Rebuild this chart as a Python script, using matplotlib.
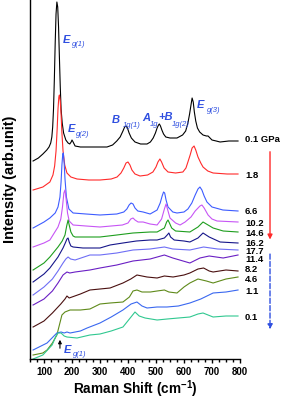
import matplotlib
matplotlib.use("Agg")
import matplotlib.pyplot as plt
from matplotlib.ticker import MultipleLocator

plt.rcParams["font.family"] = ["Liberation Sans", "DejaVu Sans"]
plt.rcParams["mathtext.fontset"] = "custom"
plt.rcParams["mathtext.rm"] = "Liberation Sans"
plt.rcParams["mathtext.bf"] = "Liberation Sans:bold"

# Raman spectra (shift in cm-1, stacked intensity in arb. units)
p01_x = [61, 80, 96, 110, 118, 124, 128, 131, 134, 137, 140, 143, 146, 149, 152, 155, 158, 161,
         165, 170, 178, 186, 192, 197, 200, 204, 211, 230, 254, 290, 325, 345, 360, 372, 382, 388,
         393, 398, 404, 412, 425, 445, 468, 480, 490, 498, 504, 509, 512, 516, 521, 527, 535, 550,
         575, 595, 606, 614, 620, 625, 629, 633, 637, 642, 648, 656, 668, 680, 686, 693, 700, 715,
         729, 760, 793]
p01_y = [198, 201, 205, 209, 212, 216, 222, 232, 250, 280, 316, 345, 357, 352, 332, 302, 273, 250,
         236, 226, 219, 216, 215, 217, 219, 217, 213, 212, 212, 212, 212, 214, 218, 222, 228, 232,
         233, 231, 226, 221, 217, 215, 215, 217, 221, 226, 231, 234, 235, 233, 229, 225, 222, 221,
         221, 224, 228, 236, 245, 254, 261, 257, 247, 238, 231, 227, 224, 223, 223, 221, 219, 218,
         217, 218, 218]

p18_x = [61, 96, 121, 132, 138, 143, 147, 150, 153, 155, 158, 161, 164, 168, 174, 182, 196, 218,
         260, 300, 340, 361, 375, 385, 393, 400, 407, 414, 425, 443, 470, 489, 500, 507, 514, 520,
         529, 543, 570, 596, 607, 614, 622, 629, 636, 642, 650, 660, 668, 685, 704, 754, 793]
p18_y = [169, 172, 177, 184, 193, 208, 230, 250, 262, 264, 258, 245, 226, 208, 194, 186, 182, 180,
         179, 179, 180, 182, 186, 191, 196, 197, 194, 189, 185, 183, 184, 187, 192, 197, 200, 197,
         191, 187, 186, 187, 191, 197, 204, 211, 213, 209, 202, 196, 192, 188, 186, 185, 185]

p66_x = [61, 100, 121, 140, 150, 157, 161, 164, 167, 169, 172, 175, 180, 189, 204, 250, 300, 360,
         385, 396, 404, 411, 418, 425, 435, 454, 479, 504, 515, 522, 527, 531, 536, 543, 560, 575,
         600, 614, 628, 640, 650, 657, 664, 672, 682, 700, 739, 793]
p66_y = [131, 137, 141, 146, 152, 162, 177, 194, 205, 206, 196, 180, 162, 150, 146, 145, 144, 145,
         147, 150, 154, 156, 155, 151, 148, 147, 145, 149, 156, 163, 167, 166, 159, 152, 147, 146,
         147, 150, 156, 164, 170, 172, 169, 163, 157, 152, 149, 148]

p102_x = [61, 100, 121, 150, 160, 166, 171, 175, 179, 184, 190, 204, 250, 300, 380, 400, 410, 418,
          425, 436, 454, 479, 504, 520, 530, 536, 541, 550, 570, 586, 604, 625, 640, 657, 664, 672,
          686, 700, 718, 793]
p102_y = [112, 116, 119, 132, 140, 152, 166, 169, 160, 146, 138, 134, 133, 132, 134, 136, 140, 141,
          139, 137, 137, 135, 134, 140, 150, 155, 150, 141, 136, 134, 137, 142, 148, 153, 154, 151,
          144, 140, 138, 137]

p146_x = [61, 100, 121, 150, 165, 175, 181, 186, 190, 196, 204, 211, 250, 300, 360, 418, 479, 504,
          530, 538, 543, 548, 556, 570, 621, 650, 668, 680, 704, 740, 793]
p146_y = [89, 96, 102, 112, 118, 124, 133, 139, 134, 127, 123, 122, 122, 122, 124, 126, 127, 127,
          131, 137, 139, 136, 131, 128, 127, 132, 137, 135, 131, 128, 127]

p162_x = [61, 100, 121, 150, 168, 176, 182, 186, 190, 196, 204, 239, 300, 336, 382, 430, 479, 504,
          530, 540, 546, 552, 565, 600, 621, 650, 668, 690, 729, 793]
p162_y = [77, 85, 91, 102, 111, 116, 120, 121, 117, 113, 112, 111, 111, 114, 116, 118, 119, 119,
          121, 124, 126, 122, 119, 118, 117, 121, 126, 122, 117, 116]

p177_x = [61, 100, 130, 150, 168, 178, 186, 195, 211, 264, 300, 360, 418, 479, 530, 560, 621, 670,
          720, 793]
p177_y = [64, 72, 80, 88, 96, 100, 102, 100, 99, 104, 104, 106, 109, 110, 112, 110, 109, 112,
          110, 109]

p114_x = [61, 100, 130, 150, 168, 182, 192, 211, 264, 300, 360, 418, 479, 530, 560, 621, 657, 690,
          740, 793]
p114_y = [54, 60, 68, 76, 84, 87, 86, 87, 89, 91, 94, 98, 100, 104, 101, 96, 101, 103, 101, 104]

p82_x = [61, 100, 130, 160, 175, 182, 190, 200, 230, 264, 300, 336, 382, 410, 432, 450, 468, 504,
         530, 561, 600, 621, 650, 670, 690, 704, 750, 793]
p82_y = [32, 38, 46, 55, 60, 63, 61, 62, 65, 69, 70, 71, 76, 80, 84, 83, 82, 81, 83, 82, 84, 86,
         90, 91, 88, 87, 89, 88]

p46_x = [61, 96, 111, 130, 146, 155, 164, 175, 193, 230, 264, 300, 336, 382, 405, 418, 432, 450,
         480, 504, 530, 546, 575, 600, 621, 650, 680, 704, 750, 793]
p46_y = [4, 6, 9, 16, 24, 34, 44, 47, 49, 49, 50, 55, 56, 57, 62, 68, 69, 67, 67, 68, 69, 67, 66,
         72, 76, 80, 78, 76, 80, 82]

p11_x = [61, 111, 146, 161, 172, 182, 193, 230, 254, 300, 340, 382, 411, 432, 450, 468, 504, 539,
         580, 621, 660, 704, 750, 793]
p11_y = [9, 16, 26, 27, 26, 27, 26, 28, 31, 36, 42, 49, 55, 57, 53, 51, 52, 52, 53, 56, 60, 66,
         67, 69]

p01b_x = [61, 96, 129, 143, 150, 161, 172, 182, 218, 264, 300, 340, 382, 405, 425, 440, 461, 504,
          540, 580, 621, 650, 668, 704, 750, 793]
p01b_y = [0, 4, 14, 23, 26, 26, 23, 22, 21, 24, 25, 28, 32, 40, 47, 43, 41, 39, 40, 41, 42, 45,
          46, 42, 43, 43]

pressures = ["0.1 GPa", "1.8", "6.6", "10.2", "14.6", "16.2", "17.7", "11.4", "8.2", "4.6", "1.1",
             "0.1"]
label_y = [219, 183, 147, 135, 126, 116, 108, 99, 90, 79, 67, 42]
colors = ["#000000", "#ff2a2a", "#3d5cff", "#c755f5", "#1e9e1e", "#16168a", "#6e6ef5", "#6a1fc4",
          "#4a1010", "#5f8a1a", "#3a68f0", "#30c890"]
xs_all = [p01_x, p18_x, p66_x, p102_x, p146_x, p162_x, p177_x, p114_x, p82_x, p46_x, p11_x, p01b_x]
ys_all = [p01_y, p18_y, p66_y, p102_y, p146_y, p162_y, p177_y, p114_y, p82_y, p46_y, p11_y, p01b_y]

fig = plt.figure(figsize=(2.83, 4.0), dpi=100)
ax = fig.add_axes([0.106, 0.1025, 0.742, 0.8975])

for xs, ys, col, lab, ylab in zip(xs_all, ys_all, colors, pressures, label_y):
    ax.plot(xs, ys, color=col, lw=0.8)
    ax.text(818, ylab, lab, fontsize=6.8, fontweight="bold", va="center", ha="left",
            clip_on=False)

ax.set_xlim(50, 800)
ax.set_ylim(0, 359)
ax.spines["top"].set_visible(False)
ax.spines["right"].set_visible(False)
ax.set_yticks([])
ax.set_xticks([100, 200, 300, 400, 500, 600, 700, 800])
ax.set_xticklabels(["100", "200", "300", "400", "500", "600", "700", "800"], fontweight="bold")
ax.xaxis.set_minor_locator(MultipleLocator(25))
ax.tick_params(axis="x", which="major", length=3, width=1, labelsize=7, pad=3)
ax.tick_params(axis="x", which="minor", length=2, width=1)
ax.set_xlabel("Raman Shift (cm$^{\\mathbf{-1}}$)", fontsize=9.8, fontweight="bold", labelpad=1)
ax.set_ylabel("Intensity (arb.unit)", fontsize=10.5, fontweight="bold", labelpad=9)
for s in ["left", "bottom"]:
    ax.spines[s].set_linewidth(1)

blue = "#2f4fe0"


def mode_text(x, y, s, size):
    ax.text(x, y, s, color=blue, fontsize=size, fontweight="bold" if size > 7 else "normal",
            style="italic", ha="left", va="baseline")


# phonon mode labels (main letter, then subscript)
mode_text(168, 316, "E", 8)
mode_text(200, 313, "g(1)", 5.5)
mode_text(186, 227, "E", 8)
mode_text(214, 223, "g(2)", 5.5)
mode_text(343, 236, "B", 8)
mode_text(382, 232, "1g(1)", 5.5)
mode_text(450, 238, "A", 8)
mode_text(479, 233, "1g", 5.5)
mode_text(507, 239, "+B", 8)
mode_text(557, 233, "1g(2)", 5.5)
mode_text(646, 251, "E", 8)
mode_text(682, 247, "g(3)", 5.5)
mode_text(171, 6, "E", 8)
mode_text(204, 3, "g(1)", 5.5)
ax.annotate("", xy=(157, 22), xytext=(157, 8),
            arrowprops=dict(arrowstyle="-|>", color="black", lw=0.8, mutation_scale=5))

# pressure direction arrows
ax.annotate("", xy=(1.143, 0.325), xytext=(1.143, 0.585), xycoords="axes fraction",
            arrowprops=dict(arrowstyle="-|>", color="#ff2a2a", lw=1, mutation_scale=7))
ax.annotate("", xy=(1.143, 0.075), xytext=(1.143, 0.30), xycoords="axes fraction",
            arrowprops=dict(arrowstyle="-|>", color="#2f4fe0", lw=1, ls="--",
                            mutation_scale=7))

fig.savefig("out.png", dpi=100)
